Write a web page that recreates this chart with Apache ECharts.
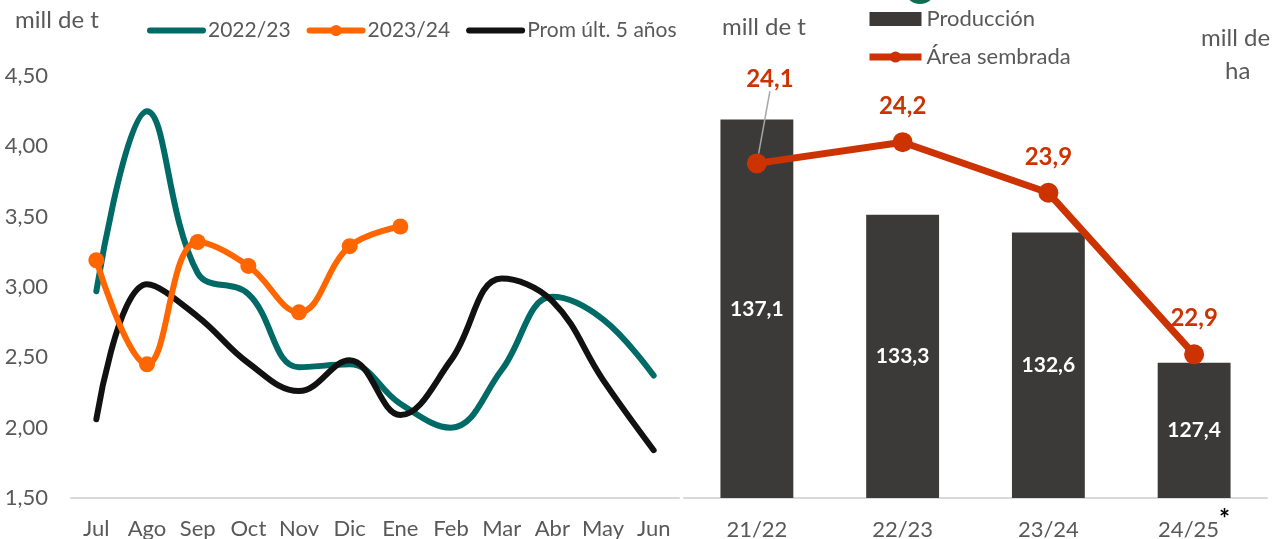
<!DOCTYPE html>
<html>
<head>
    <meta charset="UTF-8">
    <title>Producción y área sembrada</title>
    <script src="https://cdn.jsdelivr.net/npm/echarts@6/dist/echarts.min.js"></script>
    <style>
        html, body {
            margin: 0;
            padding: 0;
            background: #ffffff;
        }
        #chart {
            width: 1285px;
            height: 539px;
        }
    </style>
</head>
<body>
    <div id="chart"></div>

    <script>
        // datos del panel izquierdo (mill de t por mes)
        const meses = ['Jul', 'Ago', 'Sep', 'Oct', 'Nov', 'Dic', 'Ene', 'Feb', 'Mar', 'Abr', 'May', 'Jun'];
        const serie2223 = [2.97, 4.25, 3.10, 2.95, 2.43, 2.45, 2.17, 2.00, 2.41, 2.93, 2.77, 2.37];
        const serie2324 = [3.19, 2.45, 3.32, 3.15, 2.82, 3.29, 3.43];
        const prom5 = [2.06, 3.02, 2.79, 2.46, 2.26, 2.48, 2.09, 2.48, 3.06, 2.90, 2.34, 1.84];
        const ticksIzq = [1.5, 2.0, 2.5, 3.0, 3.5, 4.0, 4.5];

        // datos del panel derecho
        const campanas = ['21/22', '22/23', '23/24', '24/25'];
        const produccion = [137.1, 133.3, 132.6, 127.4];
        const areaSembrada = [24.07, 24.2, 23.89, 22.9];

        const gris = '#595959';
        const fuente = 'Lato';
        const coma = (v, d) => v.toFixed(d).replace('.', ',');

        // solo la primera etiqueta lleva linea guia
        const areaData = areaSembrada.map((v, i) => i === 0 ? { value: v, labelLine: { show: true } } : v);

        const myChart = echarts.init(document.getElementById('chart'));

        const option = {
            backgroundColor: '#ffffff',
            animation: false,
            textStyle: { fontFamily: fuente },
            grid: [
                { left: 71, top: 76, width: 608, height: 422, outerBoundsMode: 'none', containLabel: false },
                { left: 684, top: 72, width: 583, height: 426, outerBoundsMode: 'none', containLabel: false }
            ],
            legend: [
                {
                    left: 147,
                    top: 20,
                    padding: 0,
                    itemWidth: 53,
                    itemHeight: 14,
                    itemGap: 16,
                    lineStyle: { width: 6, cap: 'round' },
                    textStyle: { fontSize: 21, color: gris, fontFamily: fuente },
                    data: [
                        { name: '2022/23', itemStyle: { opacity: 0 } },
                        { name: '2023/24' },
                        { name: 'Prom últ. 5 años', itemStyle: { opacity: 0 } }
                    ]
                },
                {
                    orient: 'vertical',
                    left: 866,
                    top: 8,
                    padding: 0,
                    itemWidth: 52,
                    itemHeight: 14,
                    itemGap: 16,
                    lineStyle: { width: 7 },
                    textStyle: { fontSize: 22, color: gris, fontFamily: fuente },
                    data: [
                        { name: 'Producción', icon: 'rect' },
                        { name: 'Área sembrada' }
                    ]
                }
            ],
            xAxis: [
                {
                    type: 'category',
                    gridIndex: 0,
                    data: meses,
                    axisLine: { lineStyle: { color: '#D9D9D9', width: 2 } },
                    axisTick: { show: false },
                    axisLabel: { interval: 0, fontSize: 22, color: gris, margin: 20, fontFamily: fuente }
                },
                {
                    type: 'category',
                    gridIndex: 1,
                    data: campanas,
                    axisLine: { lineStyle: { color: '#D9D9D9', width: 2 } },
                    axisTick: { show: false },
                    axisLabel: {
                        interval: 0,
                        fontSize: 22,
                        lineHeight: 52,
                        color: gris,
                        margin: 6,
                        fontFamily: fuente,
                        formatter: function (v, i) {
                            return i === campanas.length - 1 ? v + '{sup|*}' : v;
                        },
                        rich: {
                            sup: { fontSize: 26, lineHeight: 26, fontWeight: 'bold', color: '#000', padding: [0, 0, 20, 0], fontFamily: fuente }
                        }
                    }
                }
            ],
            yAxis: [
                {
                    type: 'value',
                    gridIndex: 0,
                    min: ticksIzq[0],
                    max: ticksIzq[ticksIzq.length - 1],
                    interval: 0.5,
                    axisLine: { show: false },
                    axisTick: { show: false },
                    splitLine: { show: false },
                    axisLabel: {
                        fontSize: 22,
                        color: gris,
                        margin: 23,
                        fontFamily: fuente,
                        formatter: v => coma(v, 2)
                    }
                },
                {
                    type: 'value',
                    gridIndex: 1,
                    min: 122,
                    max: 139,
                    show: false
                },
                {
                    type: 'value',
                    gridIndex: 1,
                    min: 22.02,
                    max: 24.63,
                    show: false
                }
            ],
            graphic: [
                { type: 'text', left: 15, top: 8, style: { text: 'mill de t', fontSize: 24, fill: gris, fontFamily: fuente } },
                { type: 'text', left: 722, top: 15, style: { text: 'mill de t', fontSize: 24, fill: gris, fontFamily: fuente } },
                { type: 'text', left: 1201, top: 26, style: { text: 'mill de', fontSize: 24, fill: gris, fontFamily: fuente } },
                { type: 'text', left: 1225, top: 59, style: { text: 'ha', fontSize: 24, fill: gris, fontFamily: fuente } },
                { type: 'circle', shape: { cx: 920, cy: -12, r: 16 }, style: { fill: '#0B6E4F' } }
            ],
            series: [
                {
                    name: '2022/23',
                    type: 'line',
                    xAxisIndex: 0,
                    yAxisIndex: 0,
                    data: serie2223,
                    smooth: 0.4,
                    symbol: 'none',
                    lineStyle: { color: '#006A66', width: 6, cap: 'round' },
                    itemStyle: { color: '#006A66' }
                },
                {
                    name: '2023/24',
                    type: 'line',
                    xAxisIndex: 0,
                    yAxisIndex: 0,
                    data: serie2324,
                    smooth: 0.4,
                    symbol: 'circle',
                    symbolSize: 16,
                    lineStyle: { color: '#FF6600', width: 6, cap: 'round' },
                    itemStyle: { color: '#FF6600' },
                    z: 4
                },
                {
                    name: 'Prom últ. 5 años',
                    type: 'line',
                    xAxisIndex: 0,
                    yAxisIndex: 0,
                    data: prom5,
                    smooth: 0.4,
                    symbol: 'none',
                    lineStyle: { color: '#111111', width: 6, cap: 'round' },
                    itemStyle: { color: '#111111' },
                    z: 3
                },
                {
                    name: 'Producción',
                    type: 'bar',
                    xAxisIndex: 1,
                    yAxisIndex: 1,
                    data: produccion,
                    barWidth: '50%',
                    itemStyle: { color: '#3B3A39' },
                    label: {
                        show: true,
                        position: 'inside',
                        color: '#ffffff',
                        fontWeight: 'bold',
                        fontSize: 21,
                        fontFamily: fuente,
                        formatter: p => coma(p.value, 1)
                    }
                },
                {
                    name: 'Área sembrada',
                    type: 'line',
                    xAxisIndex: 1,
                    yAxisIndex: 2,
                    data: areaData,
                    symbol: 'circle',
                    symbolSize: 20,
                    lineStyle: { color: '#CC3300', width: 7 },
                    itemStyle: { color: '#CC3300' },
                    z: 5,
                    label: {
                        show: true,
                        position: 'top',
                        distance: 14,
                        color: '#CC3300',
                        fontWeight: 'bold',
                        fontSize: 24,
                        fontFamily: fuente,
                        formatter: p => coma(p.value, 1)
                    },
                    labelLine: {
                        show: false,
                        lineStyle: { color: '#A6A6A6', width: 1.5 }
                    },
                    labelLayout: function (params) {
                        if (params.dataIndex === 0) {
                            return { dx: 13, dy: -48 };
                        }
                        return {};
                    }
                }
            ]
        };

        myChart.setOption(option);

        window.addEventListener('resize', function () {
            myChart && myChart.resize();
        });
    </script>
</body>
</html>
